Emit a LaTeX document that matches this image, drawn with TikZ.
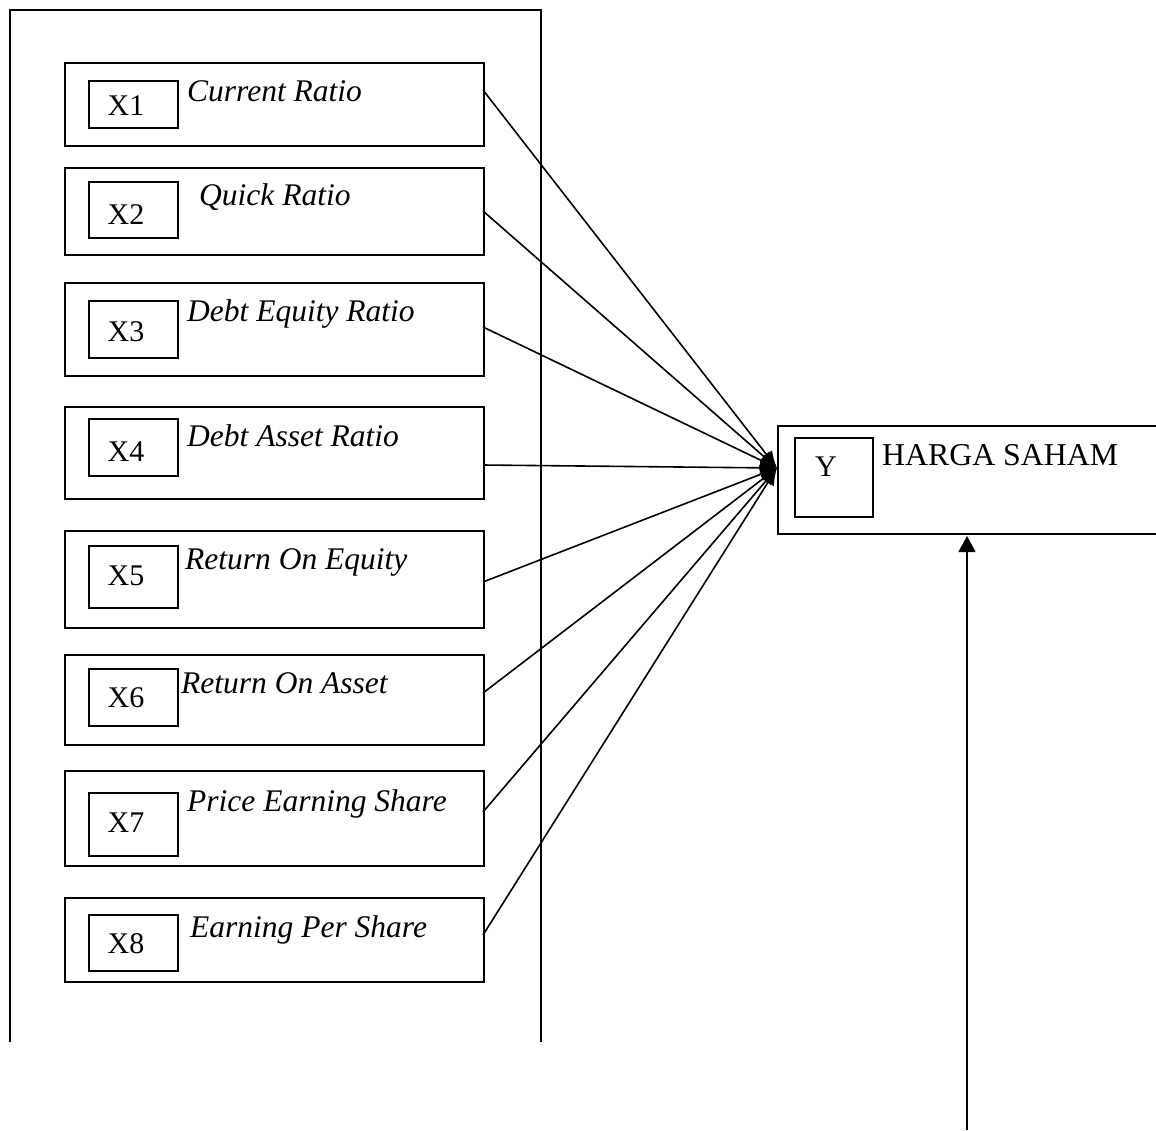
\documentclass[tikz,border=0pt]{standalone}
\usepackage{fontspec}
\setmainfont{Liberation Serif}
\usetikzlibrary{arrows.meta}
\begin{document}
\begin{tikzpicture}[x=1pt,y=-1pt,
  obox/.style={draw,line width=2pt,anchor=north west,inner sep=0pt,minimum width=419},
  ibox/.style={draw,line width=1.8pt,anchor=north west,inner sep=0pt,minimum width=89},
  xlab/.style={font=\fontsize{30}{34}\selectfont,anchor=center,inner sep=0pt},
  vlab/.style={font=\fontsize{31.5}{35}\selectfont\itshape,anchor=base west,inner sep=0pt},
  conn/.style={line width=1.6pt,-{Latex[length=17,width=14]}},
  frame/.style={line width=2pt}]
\useasboundingbox (0,0) rectangle (1156,1130);
% frame
\coordinate (f1) at (10,1042);
\coordinate (f2) at (10,10);
\coordinate (f3) at (541,10);
\coordinate (f4) at (541,1042);
\draw[frame] (f1) -- (f2) -- (f3) -- (f4);
% rows
\node[obox,minimum height=83] (r1) at (64,62) {};
\node[obox,minimum height=87] (r2) at (64,167) {};
\node[obox,minimum height=93] (r3) at (64,282) {};
\node[obox,minimum height=92] (r4) at (64,406) {};
\node[obox,minimum height=97] (r5) at (64,530) {};
\node[obox,minimum height=90] (r6) at (64,654) {};
\node[obox,minimum height=95] (r7) at (64,770) {};
\node[obox,minimum height=84] (r8) at (64,897) {};
\node[ibox,minimum height=47] (i1) at (88,80) {};
\node[ibox,minimum height=56] (i2) at (88,181) {};
\node[ibox,minimum height=57] (i3) at (88,300) {};
\node[ibox,minimum height=57] (i4) at (88,418) {};
\node[ibox,minimum height=62] (i5) at (88,545) {};
\node[ibox,minimum height=57] (i6) at (88,668) {};
\node[ibox,minimum height=63] (i7) at (88,792) {};
\node[ibox,minimum height=56] (i8) at (88,914) {};
\node[xlab] (x1) at (126,106) {X1};
\node[xlab] (x2) at (126,215) {X2};
\node[xlab] (x3) at (126,332) {X3};
\node[xlab] (x4) at (126,452) {X4};
\node[xlab] (x5) at (126,576) {X5};
\node[xlab] (x6) at (126,698) {X6};
\node[xlab] (x7) at (126,823) {X7};
\node[xlab] (x8) at (126,944) {X8};
\node[vlab] (l1) at (187,101) {Current Ratio};
\node[vlab] (l2) at (199,205) {Quick Ratio};
\node[vlab] (l3) at (187,321) {Debt Equity Ratio};
\node[vlab] (l4) at (187,446) {Debt Asset Ratio};
\node[vlab] (l5) at (185,569) {Return On Equity};
\node[vlab] (l6) at (181,693) {Return On Asset};
\node[vlab] (l7) at (187,811) {Price Earning Share};
\node[vlab] (l8) at (190,937) {Earning Per Share};
% Y box
\node[draw,line width=2pt,anchor=north west,inner sep=0pt,minimum width=420,minimum height=108] (yb) at (777,425) {};
\node[ibox,minimum width=78,minimum height=79] (yi) at (794,437) {};
\node[xlab] (yl) at (826,467) {Y};
\node[font=\fontsize{31.8}{35}\selectfont,anchor=base west,inner sep=0pt] (hs) at (882,465) {HARGA SAHAM};
% connectors
\coordinate (t) at (777,468);
\coordinate (s1) at (483,90);
\coordinate (s2) at (483,211);
\coordinate (s3) at (483,327);
\coordinate (s4) at (483,465);
\coordinate (s5) at (483,582);
\coordinate (s6) at (483,693);
\coordinate (s7) at (483,812);
\coordinate (s8) at (483,935);
\foreach \i in {1,...,8} \draw[conn] (s\i) -- (t);
% bottom arrow
\coordinate (b0) at (967,1130);
\coordinate (b1) at (967,536);
\draw[line width=1.8pt,-{Triangle[length=16,width=17]}] (b0) -- (b1);
\end{tikzpicture}
\end{document}
